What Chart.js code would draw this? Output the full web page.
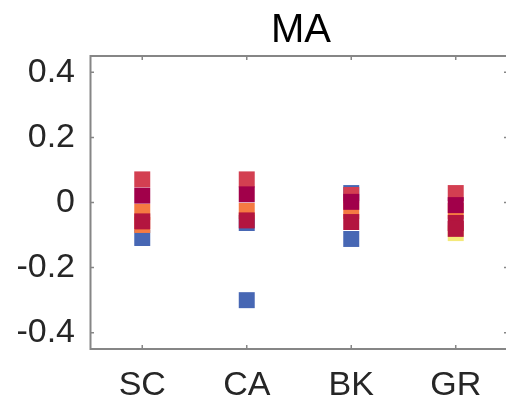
<!DOCTYPE html>
<html>
<head>
<meta charset="utf-8">
<script src="https://cdn.jsdelivr.net/npm/chart.js@4"></script>
<style>
  html, body { margin: 0; padding: 0; background: #fff; }
  canvas { display: block; }
</style>
</head>
<body>
<canvas id="graficoMA" width="506" height="403"></canvas>
<script>
// Grupos do eixo x e ticks do eixo y
const categorias = ["SC", "CA", "BK", "GR"];
const ticksY = [-0.4, -0.2, 0, 0.2, 0.4];

// Valores de cada grupo, na ordem de desenho (o último fica por cima)
const valoresSC = [0.071, -0.109, -0.069, -0.029, -0.058, 0.021];
const valoresCA = [0.071, -0.063, -0.026, -0.055, 0.025, -0.3];
const valoresBK = [0.029, 0.023, -0.026, 0.002, -0.06, -0.112];
const valoresGR = [-0.094, 0.029, -0.026, -0.008, -0.063, -0.081];

// Nível de cor de cada ponto (índice no mapa de cores)
const niveisSC = [3, 0, 2, 2, 4, 5];
const niveisCA = [3, 0, 2, 4, 5, 0];
const niveisBK = [0, 3, 2, 5, 4, 0];
const niveisGR = [1, 3, 2, 5, 4, 4];

// Mapa de cores: azul, amarelo, laranja, vermelho claro, carmim, carmim escuro
const mapaCores = ["#4767b4", "#f4e97a", "#f57a42", "#d33f51", "#b3153f", "#a1004a"];

const grupos = [
  { valores: valoresSC, niveis: niveisSC },
  { valores: valoresCA, niveis: niveisCA },
  { valores: valoresBK, niveis: niveisBK },
  { valores: valoresGR, niveis: niveisGR },
];

const fonte = "'Liberation Sans', Arial, Helvetica, sans-serif";
const corEixo = "#868686";

// Moldura estilo MATLAB: caixa com ticks para dentro (lado direito fica fora do canvas) e título
const molduraEixos = {
  id: "molduraEixos",
  beforeDatasetsDraw(chart) {
    const { ctx, chartArea: a, scales } = chart;
    const xs = scales.x;
    const ys = scales.y;
    const direita = a.right + 2;
    ctx.save();
    ctx.strokeStyle = corEixo;
    ctx.lineWidth = 2;
    ctx.beginPath();
    ctx.moveTo(direita, a.top);
    ctx.lineTo(a.left + 0.5, a.top);
    ctx.lineTo(a.left + 0.5, a.bottom);
    ctx.lineTo(direita, a.bottom);
    ctx.stroke();

    ctx.lineWidth = 1.5;
    ctx.beginPath();
    categorias.forEach((c, i) => {
      const px = xs.getPixelForValue(i + 1);
      ctx.moveTo(px, a.top);
      ctx.lineTo(px, a.top + 4);
      ctx.moveTo(px, a.bottom);
      ctx.lineTo(px, a.bottom - 4);
    });
    ticksY.forEach((v) => {
      const py = ys.getPixelForValue(v);
      ctx.moveTo(a.left, py);
      ctx.lineTo(a.left + 4, py);
      ctx.moveTo(direita, py);
      ctx.lineTo(direita - 4, py);
    });
    ctx.stroke();
    ctx.restore();
  },
  afterDraw(chart) {
    const { ctx, chartArea: a, scales } = chart;
    const centro = scales.x.getPixelForValue(2.5);
    ctx.save();
    ctx.fillStyle = "#000";
    ctx.font = "40px " + fonte;
    ctx.textAlign = "center";
    ctx.textBaseline = "alphabetic";
    ctx.fillText("MA", centro + 2, a.top - 14);
    ctx.restore();
  },
};

const ctxMA = document.getElementById("graficoMA").getContext("2d");

new Chart(ctxMA, {
  type: "scatter",
  data: {
    datasets: grupos.map((g, i) => ({
      label: categorias[i],
      data: g.valores.map((v) => ({ x: i + 1, y: v })),
      backgroundColor: g.niveis.map((n) => mapaCores[n]),
      borderWidth: 0,
      pointStyle: "rect",
      pointRadius: 11.3,
      pointHoverRadius: 11.3,
    })),
  },
  options: {
    responsive: false,
    devicePixelRatio: 1,
    animation: false,
    layout: { autoPadding: false, padding: { top: 56, right: 0, left: 0, bottom: 0 } },
    plugins: {
      legend: { display: false },
      tooltip: { enabled: false },
      title: { display: false },
    },
    scales: {
      x: {
        type: "linear",
        min: 0.5,
        max: 4.481,
        afterBuildTicks: (scale) => {
          scale.ticks = categorias.map((c, i) => ({ value: i + 1 }));
        },
        afterFit: (scale) => {
          scale.height = 54;
          scale.paddingLeft = 0;
          scale.paddingRight = 0;
        },
        grid: { display: false, drawTicks: false },
        border: { display: false },
        ticks: {
          autoSkip: false,
          maxRotation: 0,
          padding: 16,
          color: "#262626",
          font: { family: fonte, size: 34 },
          callback: (v) => categorias[Math.round(v) - 1],
        },
      },
      y: {
        type: "linear",
        min: -0.45,
        max: 0.45,
        afterBuildTicks: (scale) => {
          scale.ticks = ticksY.map((v) => ({ value: v }));
        },
        afterFit: (scale) => {
          scale.width = 90;
          scale.paddingTop = 0;
          scale.paddingBottom = 0;
        },
        grid: { display: false, drawTicks: false },
        border: { display: false },
        ticks: {
          padding: 15,
          color: "#262626",
          font: { family: fonte, size: 34 },
          callback: (v) => (v === 0 ? "0" : v.toFixed(1)),
        },
      },
    },
  },
  plugins: [molduraEixos],
});
</script>
</body>
</html>
